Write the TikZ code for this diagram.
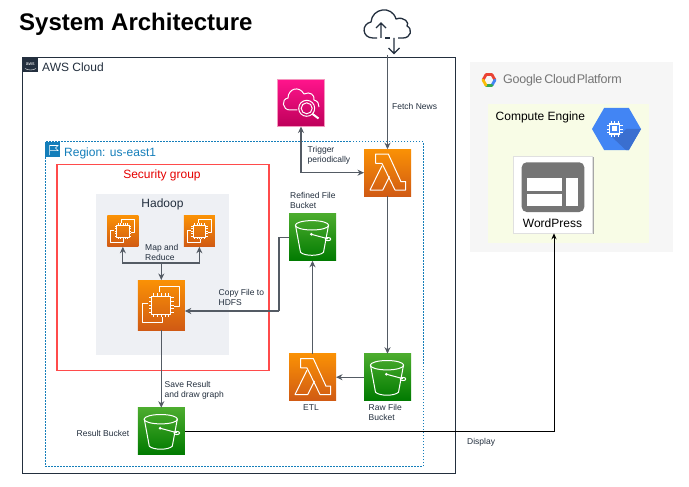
\documentclass[tikz,border=0pt]{standalone}
\usepackage{fontspec}
\setmainfont{Liberation Sans}
\usetikzlibrary{arrows.meta,shapes.geometric,calc}
\definecolor{awsdark}{HTML}{232F3E}
\definecolor{lineg}{HTML}{545B64}
\definecolor{regionb}{HTML}{147EBA}
\definecolor{sgred}{HTML}{FF4B4B}
\definecolor{hadoopbg}{HTML}{EEF0F4}
\definecolor{gcpbg}{HTML}{F6F6F6}
\definecolor{cebg}{HTML}{F8FCE6}
\definecolor{gblue}{HTML}{4285F4}
\definecolor{gdblue}{HTML}{3A6FD0}
\definecolor{ggray}{HTML}{757575}
\definecolor{gred}{HTML}{EA4335}
\definecolor{ggreen}{HTML}{34A853}
\definecolor{gyellow}{HTML}{FBBC05}
\definecolor{orT}{HTML}{FA9105}
\definecolor{orB}{HTML}{D05A14}
\definecolor{grT}{HTML}{4CAC2E}
\definecolor{grB}{HTML}{007A00}
\definecolor{piT}{HTML}{FF148C}
\definecolor{piB}{HTML}{BE005A}
\definecolor{piE}{HTML}{F596BE}
\tikzset{
  px/.style={x=1pt,y=-1pt},
  icon/.style={inner sep=0pt,outer sep=0pt,minimum width=#1,minimum height=#1},
  orangebox/.style={icon=#1,top color=orT,bottom color=orB},
  greenbox/.style={icon=47pt,top color=grT,bottom color=grB},
  pinkbox/.style={icon=47pt,draw=piE,line width=.5pt,top color=piT,bottom color=piB},
  wl/.style={draw=white,line width=1pt,line join=round,fill=none},
  arr/.style={draw=lineg,line width=1.2pt,-{Stealth[length=6.5pt,width=6pt]}},
  plain/.style={draw=lineg,line width=1.2pt},
  lbl/.style={font=\fontsize{8.5}{10}\selectfont,text=awsdark,inner sep=0pt,align=left},
  head/.style={inner sep=0pt,font=\fontsize{12}{14}\selectfont},
}
\newcommand{\lambdaicon}[1]{\begin{scope}[shift={(#1)}]
  \path[wl] (-11.8,-18.7) -- (0.8,-18.7) -- (13.5,9) -- (18.2,9) -- (18.2,17.3) -- (7.5,17.3) -- (-5.5,-9.3) -- (-11.8,-9.3) -- cycle;
  \path[wl] (-5.5,-7) -- (-17.5,17.3) -- (-4.8,17.3) -- (2,3.7);
\end{scope}}
\newcommand{\bucketicon}[1]{\begin{scope}[shift={(#1)}]
  \path[wl] (-0.5,-12) ellipse [x radius=16.7pt,y radius=4.7pt];
  \path[wl] (-17,-12) -- (-12,15) .. controls (-8,19) and (7,19) .. (11,15) -- (16,-12);
  \path[wl] (-1.2,-3) -- (15.5,1.5);
  \path[wl] (15.5,1.8) ellipse [x radius=2.8pt,y radius=1.6pt];
  \fill[white] (-1.2,-3) circle (1.5pt);
\end{scope}}
\newcommand{\ectwoicon}[2]{\begin{scope}[shift={(#1)},scale=#2]
  \path[wl] (-2,-13.3) -- (-2,-18.3) -- (17.7,-18.3) -- (17.7,1.7) -- (12.7,1.7);
  \path[wl] (-13,-1.7) -- (-18.7,-1.7) -- (-18.7,17.7) -- (1.3,17.7) -- (1.3,11.7);
  \path[wl] (-9.5,-9) rectangle (9.5,9);
  \foreach \t in {-7.5,-3.75,0,3.75,7.5}{
    \draw[white,line width=.7pt] (\t,-9) -- (\t,-12) (\t,9) -- (\t,12) (-9.5,\t) -- (-12.5,\t) (9.5,\t) -- (12.5,\t);}
\end{scope}}
\begin{document}
\begin{tikzpicture}[px]
\useasboundingbox (0,0) rectangle (689,487);
\fill[white] (0,0) rectangle (689,487);

% title
\node[anchor=base west,inner sep=0pt,font=\fontsize{24}{28}\bfseries\selectfont] (title) at (19,31) {System Architecture};

% GCP panel
\node[fill=gcpbg,inner sep=0pt,minimum width=203pt,minimum height=190pt] (gcp) at (571.5,157) {};
\node[fill=cebg,inner sep=0pt,minimum width=161pt,minimum height=139pt] (ce) at (568.5,173.5) {};
\coordinate (gl0) at (489,80);
\foreach \a/\b/\c in {
   180/240/gred,
   240/300/gred,
   300/360/gred,
   0/60/gblue,
   60/120/ggreen,
   120/180/gyellow}{
   \draw[color=\c,line width=2.8pt,line cap=round] ($(gl0)+(\a:6)$) -- ($(gl0)+(\b:6)$);
}
\node[anchor=west,inner sep=0pt,text=ggray,font=\fontsize{12.5}{14}\selectfont] (gcptext) at (503,80) {\addfontfeatures{LetterSpace=-2}Google\hspace{2pt}Cloud\hspace{1pt}Platform};
\node[head,anchor=west] (celabel) at (495.5,117) {Compute Engine};
\node[regular polygon,regular polygon sides=6,fill=gblue,inner sep=0pt,minimum size=49pt] (hex) at (616.5,129) {};
\fill[gdblue] (621,134.5) -- (626,129) -- (641,129) -- (628.75,150.2) -- (626,150.2) -- (612,137) -- cycle;
\begin{scope}[shift={(hex.center)},xshift=-2pt]
  \draw[white,line width=1.6pt] (-5,-5) rectangle (5,5);
  \fill[white] (-2.5,-2.5) rectangle (2.5,2.5);
  \foreach \t in {-3.5,0,3.5}{
    \draw[white,line width=.9pt] (\t,-5) -- (\t,-8) (\t,5) -- (\t,8) (-5,\t) -- (-8,\t) (5,\t) -- (8,\t);}
\end{scope}
\fill[black!35] (514.8,157.3) rectangle (593.8,234.3);
\node[fill=white,draw=black!12,line width=.5pt,inner sep=0pt,minimum width=79pt,minimum height=77pt] (wp) at (553,194.5) {};
\fill[ggray,rounded corners=5pt] (521.7,162.3) rectangle (584.3,212);
\fill[white] (527.3,177.7) rectangle (562.3,190.7);
\fill[white] (527.3,194) rectangle (562.3,206);
\fill[white] (565.7,177.7) rectangle (578.3,206);
\node[head,inner sep=0pt] (wptext) at (552.5,223) {WordPress};

% AWS cloud
\node[draw=awsdark,line width=1pt,inner sep=0pt,minimum width=432.5pt,minimum height=415.5pt] (aws) at (238.75,265.25) {};
\node[fill=awsdark,inner sep=0pt,minimum size=15pt,text=white,font=\fontsize{5}{5}\selectfont] (awslogo) at (30.2,65) {\raisebox{1pt}{aws}};
\draw[white,line width=.4pt] (25,68.5) .. controls (28,70.5) and (33,70.5) .. (36,68.5);
\node[head,anchor=west,text=awsdark] (awslabel) at (42,67.5) {AWS Cloud};

% Region
\node[draw=regionb,line width=1pt,dash pattern=on 1.5pt off 1.5pt,inner sep=0pt,minimum width=378pt,minimum height=324pt] (region) at (234,304) {};
\node[fill=regionb,inner sep=0pt,minimum size=15pt] (flag) at (52.5,149.5) {};
\draw[white,line width=.5pt] (49.5,155) -- (49.5,145.5) -- (58,145.5) -- (55.5,148) -- (58,150.5) -- (49.5,150.5);
\node[head,anchor=west,text=regionb] (regionlabel) at (64,153) {Region: us-east1};

% Security group
\node[draw=sgred,line width=1.2pt,inner sep=0pt,minimum width=212pt,minimum height=206pt] (sg) at (163,267.3) {};
\node[head,text=red!90!black] (sglabel) at (162,175) {Security group};

% Hadoop
\node[fill=hadoopbg,inner sep=0pt,minimum width=133pt,minimum height=161pt] (hadoop) at (162.7,274.5) {};
\node[head,text=awsdark] (hadooplabel) at (162.5,204.5) {Hadoop};

% service boxes
\node[orangebox=31pt] (ecA) at (122.85,231.3) {};
\node[orangebox=31pt] (ecB) at (199.35,231.3) {};
\node[orangebox=47pt,minimum height=50pt] (ecM) at (161.3,305) {};
\node[pinkbox] (watch) at (301,103) {};
\node[orangebox=47pt] (lamTop) at (387.5,172.7) {};
\node[greenbox] (refined) at (312.5,237.3) {};
\node[orangebox=47pt] (etl) at (312.5,377.2) {};
\node[greenbox] (raw) at (387.5,377.2) {};
\node[greenbox] (result) at (161.3,431.2) {};
\node[inner sep=0pt,minimum width=47pt,minimum height=45pt] (net) at (387.5,32) {};

\lambdaicon{lamTop.center}
\lambdaicon{etl.center}
\bucketicon{refined.center}
\bucketicon{raw.center}
\bucketicon{result.center}
\ectwoicon{ecM.center}{1}
\ectwoicon{ecA.center}{.66}
\ectwoicon{ecB.center}{.66}

% cloudwatch icon
\begin{scope}[shift={(watch.center)}]
  \path[wl] (-3.7,7) -- (-11,7) .. controls (-19,7) and (-20,-4) .. (-13,-5) .. controls (-13,-14) and (-2,-18) .. (3,-9) .. controls (9,-12) and (14,-8) .. (13,-3) .. controls (17,-2) and (18,1) .. (18,4);
  \path[wl] (5.7,5.3) circle (8pt);
  \path[wl] (5.7,5.3) circle (5.5pt);
  \path[wl,line width=2pt] (11.5,11) -- (17.5,15.5);
\end{scope}

% internet cloud icon
\draw[awsdark,line width=1.3pt,line join=round] (377,38) -- (373,38) .. controls (362,38) and (361,24) .. (371,22) .. controls (372,8) and (392,5) .. (396,19) .. controls (404,16) and (410,23) .. (407,26) .. controls (413,29) and (411,38) .. (403,38) -- (398,38);
\draw[awsdark,line width=1.3pt] (385,38) -- (390,38);
\draw[awsdark,line width=1.3pt] (381,38) -- (381,24) (376,28) -- (381,23) -- (386,28);
\draw[awsdark,line width=1.3pt] (394,38) -- (394,53) (388.5,48) -- (394,53.5) -- (399.5,48);

% connectors
\coordinate (hub) at (161.3,263);
\coordinate (copy) at (279,237.3);
\coordinate (copyEnd) at (279,311);
\coordinate (ecIn) at (184.8,311);
\coordinate (disp) at (554,431.2);

\draw[arr] (hub) -| (ecA.south);
\draw[arr] (hub) -| (ecB.south);
\draw[arr] (hub) -- (ecM.north);
\draw[plain] (refined.west) -- (copy) -- (copyEnd);
\draw[arr] (copyEnd) -- (ecIn);
\draw[arr] (ecM.south) -- (result.north);
\draw[draw=lineg,line width=1.2pt,{Stealth[length=6.5pt,width=6pt]}-{Stealth[length=6.5pt,width=6pt]}] (watch.south) |- (lamTop.west);
\draw[arr] (net.south) -- (lamTop.north);
\draw[arr] (lamTop.south) -- (raw.north);
\draw[arr] (raw.west) -- (etl.east);
\draw[arr] (etl.north) -- (refined.south);
\draw[draw=black,line width=1pt,-{Stealth[length=6pt,width=5pt]}] (result.east) -- (disp) -- (disp |- wp.south);

% labels
\node[lbl,anchor=west] (l1) at (392,106) {Fetch News};
\node[lbl,anchor=north west] (l2) at (307.5,146) {Trigger\\periodically};
\node[lbl,anchor=north west] (l3) at (290,192.5) {Refined File\\Bucket};
\node[lbl,anchor=north west] (l4) at (145,244.5) {Map and\\Reduce};
\node[lbl,anchor=north west] (l5) at (218.5,289.5) {Copy File to\\HDFS};
\node[lbl,anchor=north west] (l6) at (164.5,381) {Save Result\\and draw graph};
\node[lbl,anchor=west] (l7) at (76.5,433) {Result Bucket};
\node[lbl,anchor=west] (l8) at (303,408) {ETL};
\node[lbl,anchor=north west] (l9) at (368.5,404) {Raw File\\Bucket};
\node[lbl,anchor=west] (l10) at (467,442.5) {Display};
\end{tikzpicture}
\end{document}
